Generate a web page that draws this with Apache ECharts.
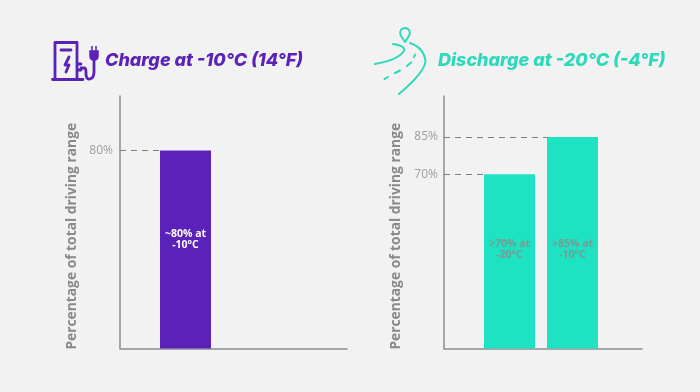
<!DOCTYPE html>
<html>
<head>
<meta charset="utf-8">
<style>
  html, body { margin: 0; padding: 0; background: #f2f2f2; }
  #main { width: 700px; height: 392px; }
</style>
<script src="https://cdn.jsdelivr.net/npm/echarts@6/dist/echarts.min.js"></script>
</head>
<body>
<div id="main"></div>
<script>
const chargeCategories = ['-10°C']
const chargeValues = [80]
const chargeTicks = [80]
const chargeLabels = ['~80% at\n-10°C']

const dischargeCategories = ['-20°C', '-10°C']
const dischargeValues = [70, 85]
const dischargeTicks = [70, 85]
const dischargeLabels = ['>70% at\n-20°C', '>85% at\n-10°C']

const axisName = 'Percentage of total driving range'
const purple = '#5a22b8'
const teal = '#1de3c2'
const axisColor = '#8e8e8e'
const barWidth = 51
const band = 63 // px between bar centres, x axis is in units of one band
const halfBar = barWidth / 2 / band

// icons in the headers, page coordinates
echarts.graphic.registerShape('chargerLines', echarts.graphic.extendPath(
  'M55 79V42.5H77V79 M52.5 79.5H83 M61 50H71 M69 57L65 65H69L66 72 M77 64H81 M77 70H81 M81 68H84Q86 68 86 72V75Q87 80 90 79Q94 78 94 72V60', {}))
echarts.graphic.registerShape('chargerPlug', echarts.graphic.extendPath(
  'M90 51H98V56Q98 60 94 60Q90 60 90 56Z M92 51V46 M96 51V46', {}))
echarts.graphic.registerShape('roadLines', echarts.graphic.extendPath(
  'M375 64Q398 60 404 51Q406 46 393 44 M410 43Q424 48 425.5 61Q425 72 399 94 M384.5 79L388 77 M395 73L400 70.5 M407 66L411 62.5 M414 57L415 54.5', {}))
echarts.graphic.registerShape('roadPin', echarts.graphic.extendPath(
  'M405 42L400.5 35Q399 28.5 405 28Q411 28.5 409.5 35Z', {}))

const chart = echarts.init(document.getElementById('main'))

// x axis runs over category index, min/max only place the bars inside the plot
const xAxisOf = (gridIndex, min, max) => ({
  type: 'value',
  gridIndex,
  min,
  max,
  axisLine: { show: true, onZero: false, lineStyle: { color: axisColor, width: 1.5 } },
  axisTick: { show: false },
  axisLabel: { show: false },
  splitLine: { show: false }
})

const yAxisOf = (gridIndex, ticks, margin, max) => ({
  type: 'value',
  gridIndex,
  min: 0,
  max,
  name: axisName,
  nameLocation: 'middle',
  nameRotate: 90,
  nameGap: 41,
  nameTextStyle: {
    color: '#8a8a8a',
    fontFamily: 'Open Sans',
    fontWeight: 700,
    fontSize: 13.8,
    padding: [0, 28, 0, 0]
  },
  axisLine: { show: true, onZero: false, lineStyle: { color: axisColor, width: 1.5 } },
  axisTick: { show: false },
  splitLine: { show: false },
  axisLabel: {
    customValues: ticks,
    margin,
    color: '#a0a0a0',
    fontFamily: 'Open Sans',
    fontSize: 12,
    formatter: '{value}%'
  }
})

const barSeries = (index, categories, values, labels, color, labelColor, labelDistance, xMin) => ({
  type: 'bar',
  xAxisIndex: index,
  yAxisIndex: index,
  barWidth,
  data: values.map((v, i) => ({ name: categories[i], value: [i, v] })),
  itemStyle: { color },
  label: {
    show: true,
    position: 'insideBottom',
    distance: labelDistance,
    color: labelColor,
    fontFamily: 'Open Sans',
    fontWeight: 700,
    fontSize: 10.5,
    lineHeight: 11,
    formatter: p => labels[p.dataIndex]
  },
  markLine: {
    silent: true,
    symbol: 'none',
    label: { show: false },
    lineStyle: { color: '#808080', type: [6, 5], width: 1.2 },
    data: values.map((v, i) => [
      { coord: [xMin, v] },
      { coord: [i - halfBar, v] }
    ])
  }
})

const titleOf = (text, left, color) => ({
  text,
  left,
  top: 47,
  textStyle: {
    color,
    fontFamily: 'Inter',
    fontStyle: 'italic',
    fontWeight: 800,
    fontSize: 18
  }
})

const stroke = (color, width) => ({ fill: null, stroke: color, lineWidth: width, lineCap: 'round', lineJoin: 'round' })

const leftXMin = -65.5 / band
const rightXMin = -65.5 / band

chart.setOption({
  backgroundColor: '#f2f2f2',
  animation: false,
  title: [
    titleOf('Charge at -10°C (14°F)', 100, purple),
    titleOf('Discharge at -20°C (-4°F)', 433, '#2dd9bb')
  ],
  grid: [
    { left: 120, top: 96, width: 227, height: 252.5 },
    { left: 444, top: 96, width: 198, height: 252.5 }
  ],
  xAxis: [
    xAxisOf(0, leftXMin, (347 - 185.5) / band),
    xAxisOf(1, rightXMin, (642 - 509.5) / band)
  ],
  yAxis: [
    yAxisOf(0, chargeTicks, 7, 102),
    yAxisOf(1, dischargeTicks, 6, 101.5)
  ],
  series: [
    barSeries(0, chargeCategories, chargeValues, chargeLabels, purple, '#ffffff', 98, leftXMin),
    barSeries(1, dischargeCategories, dischargeValues, dischargeLabels, teal, '#7a9a94', 88, rightXMin)
  ],
  graphic: [
    { type: 'chargerLines', style: stroke(purple, 2.8) },
    { type: 'chargerPlug', style: { fill: purple, stroke: purple, lineWidth: 1.5 } },
    { type: 'roadLines', style: stroke('#2dd9bb', 2) },
    { type: 'roadPin', style: stroke('#2dd9bb', 2) }
  ]
})
</script>
</body>
</html>
